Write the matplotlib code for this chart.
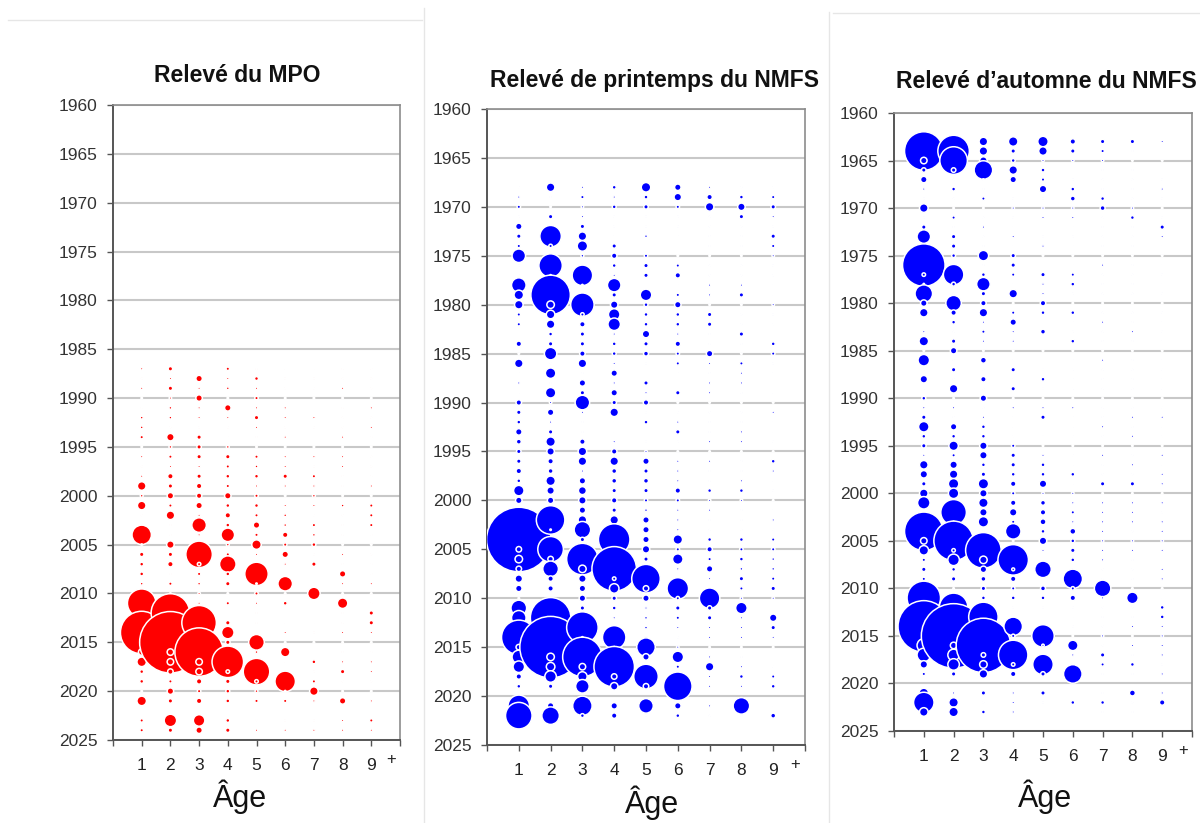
import matplotlib.pyplot as plt
from matplotlib.lines import Line2D
import numpy as np

plt.rcParams['font.family'] = ['Liberation Sans', 'DejaVu Sans']

ages = [1, 2, 3, 4, 5, 6, 7, 8, 9]
age_labels = ['1', '2', '3', '4', '5', '6', '7', '8', '9']

# Relative abundance index at age (bubble area), one row per survey year
mpo_years = [y for y in range(1987, 2025) if y != 2022]
mpo_index = [
    [0.01, 0.09, 0, 0.04, 0, 0, 0, 0, 0],               # 1987
    [0, 0.01, 0.25, 0.01, 0.06, 0, 0, 0, 0],            # 1988
    [0.01, 0.09, 0.01, 0.02, 0.01, 0, 0, 0.01, 0],      # 1989
    [0, 0.01, 0.25, 0, 0.04, 0, 0, 0, 0],               # 1990
    [0, 0.02, 0.01, 0.25, 0.01, 0.01, 0, 0, 0.01],      # 1991
    [0.02, 0.02, 0.01, 0.01, 0.09, 0.01, 0.01, 0, 0],   # 1992
    [0.02, 0, 0, 0, 0.01, 0, 0, 0, 0.01],               # 1993
    [0.04, 0.36, 0.09, 0, 0, 0.01, 0, 0.01, 0],         # 1994
    [0, 0.02, 0.09, 0.02, 0, 0, 0, 0, 0],               # 1995
    [0.01, 0.04, 0.09, 0.09, 0.04, 0.01, 0.01, 0.01, 0],  # 1996
    [0, 0.01, 0.01, 0.04, 0.02, 0.01, 0, 0.01, 0],      # 1997
    [0.01, 0.16, 0.09, 0.06, 0.06, 0.09, 0.04, 0, 0],   # 1998
    [0.5, 0.09, 0.16, 0.04, 0.01, 0.01, 0.01, 0, 0.01],  # 1999
    [0.02, 0.25, 0.16, 0.25, 0.04, 0, 0.02, 0, 0],      # 2000
    [0.5, 0.04, 0.25, 0.06, 0.06, 0.01, 0.01, 0.02, 0.04],  # 2001
    [0, 0.5, 0.01, 0.16, 0.04, 0.02, 0, 0, 0.04],       # 2002
    [0, 0, 1.7, 0.06, 0.25, 0.02, 0.04, 0, 0.04],       # 2003
    [3.2, 0, 0.01, 1.44, 0.04, 0.16, 0.02, 0, 0],       # 2004
    [0, 0.36, 0.02, 0.02, 0.64, 0.04, 0.06, 0, 0],      # 2005
    [0.09, 0.09, 6.25, 0.04, 0.01, 0.25, 0, 0.01, 0],   # 2006
    [0.06, 0.16, 0.04, 2.25, 0.01, 0.01, 0.09, 0, 0],   # 2007
    [0.06, 0, 0.04, 0.06, 4.8, 0, 0, 0.25, 0],          # 2008
    [0.02, 0.04, 0.02, 0.09, 0, 1.7, 0, 0.01, 0.01],    # 2009
    [0, 0, 0.01, 0, 0.04, 0, 1.2, 0, 0],                # 2010
    [7.3, 0, 0.01, 0.04, 0.01, 0.06, 0, 0.8, 0],        # 2011
    [0, 13.7, 0, 0, 0, 0, 0, 0, 0.09],                  # 2012
    [0, 0, 10.9, 0.09, 0, 0, 0, 0, 0.09],               # 2013
    [16.8, 0, 0, 1.2, 0, 0.01, 0, 0.01, 0.01],          # 2014
    [0, 36, 0, 0.09, 2.0, 0, 0, 0, 0],                  # 2015
    [0.25, 0.25, 22, 0, 0.02, 0.64, 0, 0, 0],           # 2016
    [0.64, 0.25, 0.25, 9, 0, 0, 0.06, 0.01, 0.01],      # 2017
    [0.06, 0.16, 0.25, 0.04, 6.25, 0, 0, 0.09, 0.01],   # 2018
    [0.06, 0.04, 0.16, 0.09, 0.04, 3.6, 0.04, 0, 0],    # 2019
    [0, 0.25, 0.04, 0.06, 0.02, 0, 0.5, 0, 0],          # 2020
    [0.64, 0.09, 0.16, 0.06, 0.04, 0.04, 0.01, 0.25, 0.01],  # 2021
    [0.04, 1.2, 1.0, 0.06, 0, 0, 0, 0.01, 0.04],        # 2023
    [0.04, 0.09, 0.25, 0.09, 0.01, 0.01, 0.01, 0.01, 0.01],  # 2024
]

spring_years = [y for y in range(1968, 2023) if y != 2020]
spring_index = [
    [0, 0.5, 0.01, 0.06, 0.64, 0.25, 0.01, 0, 0],       # 1968
    [0.01, 0, 0.04, 0.01, 0.06, 0.36, 0.16, 0.06, 0.04],  # 1969
    [0.04, 0, 0.01, 0.06, 0.09, 0.04, 0.5, 0.36, 0.09],  # 1970
    [0, 0.09, 0.01, 0, 0, 0, 0, 0.09, 0.01],            # 1971
    [0.25, 0, 0.09, 0, 0, 0, 0, 0, 0],                  # 1972
    [0.09, 4.0, 0.5, 0, 0.02, 0, 0, 0, 0.09],           # 1973
    [0.04, 0.04, 0.8, 0.09, 0, 0, 0, 0, 0.04],          # 1974
    [1.44, 0.04, 0.02, 0.16, 0.04, 0, 0, 0, 0.01],      # 1975
    [0, 4.8, 0, 0.06, 0.09, 0.04, 0, 0, 0],             # 1976
    [0, 0, 3.6, 0.01, 0.09, 0.16, 0, 0, 0],             # 1977
    [1.7, 0, 0, 1.44, 0, 0, 0.01, 0.01, 0],             # 1978
    [0.64, 14.4, 0.04, 0.09, 1.0, 0.04, 0.01, 0.09, 0],  # 1979
    [0.5, 0.36, 4.8, 0.36, 0.06, 0.25, 0, 0, 0.01],     # 1980
    [0.04, 0.5, 0.04, 1.0, 0.06, 0.06, 0.09, 0, 0],     # 1981
    [0.04, 0.5, 0.16, 1.2, 0.06, 0.06, 0.09, 0, 0],     # 1982
    [0, 0.06, 0.09, 0.01, 0.36, 0.01, 0, 0.09, 0],      # 1983
    [0.16, 0.09, 0.09, 0.06, 0.09, 0.16, 0, 0, 0.06],   # 1984
    [0, 1.2, 0.16, 0.06, 0.12, 0.04, 0.25, 0, 0.04],    # 1985
    [0.5, 0, 0.5, 0.01, 0, 0.04, 0.01, 0.04, 0],        # 1986
    [0, 0.8, 0, 0.25, 0, 0, 0, 0.01, 0],                # 1987
    [0.01, 0, 0.25, 0.01, 0.09, 0, 0.01, 0.01, 0],      # 1988
    [0, 0.8, 0.09, 0.25, 0.01, 0.09, 0.01, 0, 0],       # 1989
    [0.16, 0.01, 1.7, 0.09, 0.16, 0, 0, 0, 0],          # 1990
    [0.09, 0.25, 0.01, 0.5, 0, 0, 0, 0, 0.01],          # 1991
    [0.06, 0.01, 0, 0, 0.06, 0.01, 0, 0, 0],            # 1992
    [0.25, 0.09, 0, 0, 0, 0.09, 0, 0.01, 0],            # 1993
    [0.12, 0.64, 0.16, 0.01, 0, 0, 0.01, 0.01, 0],      # 1994
    [0.09, 0.36, 0.5, 0.16, 0.01, 0, 0, 0, 0],          # 1995
    [0.09, 0.16, 0.5, 0.5, 0.25, 0.01, 0.01, 0, 0.06],  # 1996
    [0.16, 0.12, 0.01, 0.12, 0.09, 0.01, 0, 0, 0.01],   # 1997
    [0.06, 0.64, 0.25, 0.12, 0.12, 0.01, 0, 0.01, 0],   # 1998
    [0.8, 0.36, 0.42, 0.09, 0.09, 0.16, 0.06, 0.06, 0],  # 1999
    [0.25, 0.25, 0.36, 0.16, 0.04, 0.04, 0.01, 0.01, 0],  # 2000
    [0.09, 0.09, 0.25, 0.09, 0.02, 0.01, 0.01, 0, 0],   # 2001
    [0, 7.3, 0.5, 0.5, 0.25, 0.01, 0, 0, 0.01],         # 2002
    [0, 0, 2.25, 0.04, 0.25, 0.01, 0, 0, 0],            # 2003
    [39.7, 0, 0.09, 9, 0.25, 0.64, 0.06, 0.06, 0.04],   # 2004
    [0.16, 5.8, 0.02, 0, 0.36, 0.04, 0.16, 0.04, 0.04],  # 2005
    [0.36, 0.16, 9, 0.04, 0.09, 0.8, 0.04, 0.06, 0.02],  # 2006
    [0.16, 2.0, 0.36, 18.5, 0.04, 0.01, 0.25, 0.02, 0.02],  # 2007
    [0.36, 0.16, 0.36, 0.04, 7.3, 0.01, 0.01, 0.09, 0.04],  # 2008
    [0.25, 0.16, 0.25, 0.64, 0.16, 4.0, 0.01, 0.04, 0.09],  # 2009
    [0, 0, 0.25, 0.09, 0.25, 0.04, 3.6, 0.01, 0.01],    # 2010
    [2.0, 0, 0.09, 0.06, 0.01, 0.09, 0.09, 1.0, 0],     # 2011
    [1.7, 15.2, 0.04, 0.01, 0.02, 0.04, 0.09, 0.01, 0.36],  # 2012
    [0, 0, 9, 0, 0.02, 0.01, 0.01, 0.01, 0.09],         # 2013
    [10.9, 0, 0, 4.8, 0.01, 0, 0.01, 0.01, 0.01],       # 2014
    [0.16, 36, 0.25, 0, 2.9, 0.01, 0, 0, 0],            # 2015
    [1.44, 0.36, 14.4, 0.04, 0.25, 1.0, 0.01, 0, 0],    # 2016
    [1.0, 0.5, 0.25, 15.2, 0.04, 0.04, 0.5, 0.01, 0],   # 2017
    [0.16, 1.0, 0.64, 0.16, 5.3, 0.04, 0.01, 0.06, 0.04],  # 2018
    [0.06, 0.09, 1.44, 0.36, 0.16, 7.3, 0.01, 0.01, 0.06],  # 2019
    [4.0, 0.25, 3.2, 0.25, 1.7, 0.25, 0.01, 2.25, 0],   # 2021
    [6.25, 2.56, 0.06, 0.16, 0, 0.06, 0, 0, 0.12],      # 2022
]

fall_years = [y for y in range(1963, 2024) if y != 2020]
fall_index = [
    [0, 0, 0.5, 0.64, 0.8, 0.16, 0.09, 0.09, 0.01],     # 1963
    [13.7, 9, 0.5, 0.09, 0.5, 0.09, 0.04, 0, 0],        # 1964
    [0.25, 6.8, 0.36, 0.06, 0.01, 0.01, 0.01, 0, 0],    # 1965
    [0.09, 0.09, 2.9, 0.5, 0.06, 0, 0, 0, 0],           # 1966
    [0.25, 0, 0, 0.25, 0.04, 0, 0, 0, 0],               # 1967
    [0.01, 0.06, 0, 0, 0.36, 0.06, 0, 0, 0.01],         # 1968
    [0, 0, 0.04, 0, 0, 0.12, 0.06, 0, 0],               # 1969
    [0.5, 0, 0, 0.01, 0.01, 0.01, 0.12, 0.01, 0],       # 1970
    [0, 0.04, 0, 0, 0.01, 0.01, 0, 0.06, 0],            # 1971
    [0.09, 0, 0.01, 0, 0, 0, 0, 0, 0.09],               # 1972
    [1.44, 0.09, 0, 0.01, 0, 0, 0, 0, 0.01],            # 1973
    [0, 0.09, 0, 0, 0.01, 0, 0, 0, 0],                  # 1974
    [0, 0.06, 0.8, 0.09, 0, 0, 0, 0, 0],                # 1975
    [16.8, 0.01, 0, 0.09, 0, 0, 0.01, 0, 0],            # 1976
    [0.04, 3.6, 0.06, 0.04, 0.09, 0.04, 0, 0, 0],       # 1977
    [0, 0.06, 1.44, 0, 0.01, 0.06, 0, 0, 0],            # 1978
    [2.56, 0, 0.09, 0.5, 0.01, 0, 0, 0, 0],             # 1979
    [0.25, 1.96, 0.16, 0, 0.16, 0, 0, 0, 0],            # 1980
    [0.5, 0.16, 0.5, 0.04, 0.06, 0.06, 0, 0, 0],        # 1981
    [0, 0.06, 0.01, 0.25, 0, 0, 0.01, 0, 0],            # 1982
    [0.01, 0, 0.04, 0.01, 0.12, 0, 0, 0.01, 0],         # 1983
    [0.64, 0.09, 0.01, 0.01, 0, 0.06, 0, 0, 0],         # 1984
    [0, 0.25, 0, 0, 0, 0, 0, 0, 0],                     # 1985
    [1.0, 0, 0.2, 0, 0, 0, 0.01, 0, 0],                 # 1986
    [0, 0.09, 0, 0.09, 0, 0, 0, 0, 0],                  # 1987
    [0.36, 0, 0.16, 0, 0.06, 0, 0, 0, 0],               # 1988
    [0, 0.5, 0, 0.09, 0, 0, 0, 0, 0],                   # 1989
    [0.06, 0, 0.25, 0, 0, 0, 0, 0, 0],                  # 1990
    [0.01, 0.01, 0, 0.01, 0.01, 0.01, 0, 0, 0],         # 1991
    [0.09, 0, 0.01, 0, 0.09, 0, 0, 0.01, 0.01],         # 1992
    [0.8, 0.25, 0.06, 0, 0, 0, 0.01, 0, 0],             # 1993
    [0.06, 0.06, 0.06, 0, 0, 0, 0, 0.01, 0],            # 1994
    [0.09, 0.64, 0.36, 0.04, 0, 0, 0, 0, 0],            # 1995
    [0.01, 0.04, 0.36, 0.09, 0.01, 0, 0.01, 0, 0.01],   # 1996
    [0.5, 0.36, 0.06, 0.09, 0.06, 0, 0, 0.01, 0],       # 1997
    [0.36, 0.5, 0.09, 0.06, 0.06, 0.06, 0, 0, 0.01],    # 1998
    [0.09, 0.8, 0.8, 0.16, 0.36, 0, 0.09, 0.09, 0.01],  # 1999
    [0.5, 0.8, 0.36, 0.04, 0.01, 0.01, 0, 0, 0],        # 2000
    [1.2, 0, 0.64, 0.16, 0.12, 0.01, 0.01, 0.01, 0.01],  # 2001
    [0, 5.8, 0.36, 0.36, 0.16, 0.04, 0.01, 0.01, 0],    # 2002
    [0, 0, 0.8, 0.04, 0.2, 0.01, 0.01, 0.01, 0.01],     # 2003
    [13.7, 0, 0, 1.96, 0.06, 0.2, 0.01, 0, 0.01],       # 2004
    [0.25, 14.4, 0, 0, 0.36, 0.06, 0.01, 0.01, 0.01],   # 2005
    [0.64, 0.04, 11.6, 0, 0.01, 0.09, 0.01, 0.01, 0.01],  # 2006
    [0.04, 1.0, 0.36, 8.4, 0, 0.06, 0.01, 0, 0],        # 2007
    [0.09, 0.06, 0.25, 0.02, 2.25, 0.01, 0, 0, 0.01],   # 2008
    [0.04, 0.09, 0.12, 0.16, 0, 3.2, 0, 0, 0.01],       # 2009
    [0, 0, 0.09, 0.04, 0.12, 0.04, 2.25, 0, 0],         # 2010
    [10.2, 0, 0.06, 0.06, 0.06, 0.16, 0.01, 1.0, 0],    # 2011
    [0, 7.3, 0, 0, 0, 0, 0, 0, 0.06],                   # 2012
    [0, 0, 7.8, 0, 0, 0, 0, 0, 0.06],                   # 2013
    [25, 0, 0, 2.9, 0, 0, 0, 0.01, 0.01],               # 2014
    [0, 39.7, 0, 0.04, 4.4, 0, 0.01, 0, 0.01],          # 2015
    [1.44, 0.25, 28, 0, 0.01, 0.8, 0, 0.01, 0.01],      # 2016
    [1.44, 1.0, 0.09, 7.8, 0, 0.01, 0.09, 0, 0.01],     # 2017
    [0.36, 1.0, 0.36, 0.04, 3.6, 0.01, 0.04, 0.06, 0],  # 2018
    [0.04, 0.09, 0.5, 0.16, 0.09, 2.9, 0, 0, 0.01],     # 2019
    [0.64, 0.01, 0.09, 0.01, 0.09, 0, 0, 0.2, 0.01],    # 2021
    [3.6, 0.64, 0, 0.01, 0, 0.06, 0.06, 0, 0.16],       # 2022
    [0.5, 0.64, 0.06, 0.01, 0, 0, 0, 0, 0],             # 2023
]

W, H = 1200, 823
EDGE = 1.1


def fx(px):
    return px / W


def fy(py):
    return 1 - py / H


def bubble_sizes(vals):
    # area-proportional bubbles, edge width added so the fill keeps its size
    d = 7.2 * np.sqrt(np.asarray(vals, dtype=float)) + EDGE
    return d ** 2


def draw_panel(box, years, index, color, title, title_xy, label_xy):
    left, top, right, bottom = box
    ax = fig.add_axes([fx(left), fy(bottom), fx(right - left), (bottom - top) / H])
    index = np.asarray(index)
    for j, age in enumerate(ages):
        ax.scatter(np.full(len(years), age), years, s=bubble_sizes(index[:, j]),
                   c=color, edgecolors='white', linewidths=EDGE, zorder=3)

    ax.set_xlim(0, 10)
    ax.set_ylim(2025, 1960)
    ax.set_yticks(range(1960, 2026, 5))
    ax.set_xticks(range(0, 11))
    ax.set_xticklabels([''] + age_labels + [''])
    ax.yaxis.grid(True, color='#c8c8c8', linewidth=1.5)
    ax.set_axisbelow(True)

    for side in ['left', 'bottom']:
        ax.spines[side].set_color('#555555')
        ax.spines[side].set_linewidth(1.4)
    for side in ['top', 'right']:
        ax.spines[side].set_color('#8c8c8c')
        ax.spines[side].set_linewidth(1.2)

    ax.tick_params(axis='y', length=4, width=1, color='#555555', pad=7,
                   labelsize=12.5, labelcolor='#333333')
    ax.tick_params(axis='x', length=4, width=1, color='#555555', pad=9,
                   labelsize=12.5, labelcolor='#222222')
    ax.annotate('+', xy=(9.7, 0), xycoords=('data', 'axes fraction'),
                xytext=(0, -14), textcoords='offset points',
                ha='center', va='center', fontsize=12, color='#222222')

    fig.text(fx(title_xy[0]), fy(title_xy[1]), title, ha='center', va='center',
             fontsize=16.5, fontweight='bold', color='#111111')
    fig.text(fx(label_xy[0]), fy(label_xy[1]), 'Âge', ha='center', va='center',
             fontsize=22, color='#111111')
    return ax


fig = plt.figure(figsize=(W / 100, H / 100), dpi=100)
fig.patch.set_facecolor('white')

draw_panel((113, 105, 400, 740), mpo_years, mpo_index, '#ff0000',
           'Relevé du MPO', (237, 76), (240, 797))
draw_panel((487, 109, 805, 745), spring_years, spring_index, '#0000ff',
           'Relevé de printemps du NMFS', (655, 81), (652, 803))
draw_panel((894, 113, 1192, 731), fall_years, fall_index, '#0000ff',
           'Relevé d’automne du NMFS', (1046, 81), (1045, 797))

# faint borders around the three panels
border = '#e6e6e6'
for xs, ys in [((8, 422), (20, 20)), ((424, 424), (8, 823)),
               ((829, 829), (12, 823)), ((833, 1200), (13, 13))]:
    fig.add_artist(Line2D([fx(x) for x in xs], [fy(y) for y in ys],
                          color=border, linewidth=1))

fig.savefig('out.png', dpi=100)
